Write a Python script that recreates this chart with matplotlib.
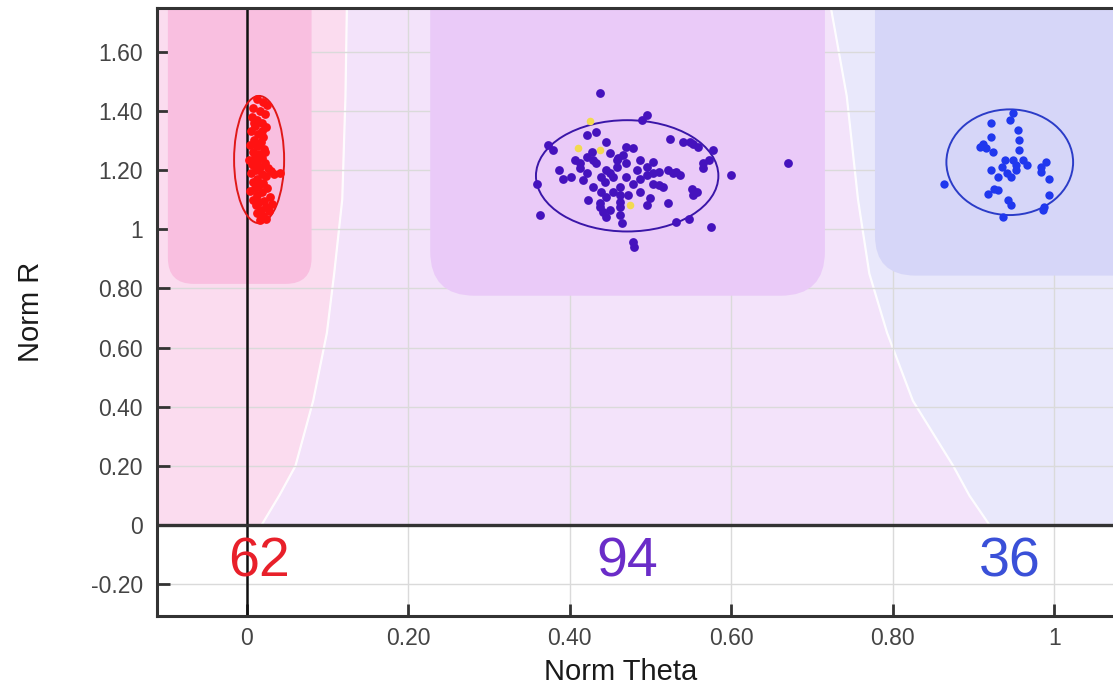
import matplotlib
matplotlib.use("Agg")
import matplotlib.pyplot as plt
from matplotlib.patches import Ellipse, FancyBboxPatch

plt.rcParams['font.family'] = ['Liberation Sans', 'DejaVu Sans']

# ---- data ----
red_x = [0.012, 0.020, 0.025, 0.008, 0.016, 0.022, 0.006, 0.013, 0.019, 0.010,
         0.024, 0.005, 0.014, 0.020, 0.009, 0.017, 0.004, 0.012, 0.021, 0.007,
         0.015, 0.010, 0.019, 0.003, 0.013, 0.022, 0.008, 0.016, 0.026, 0.011,
         0.030, 0.041, 0.005, 0.018, 0.023, 0.034, 0.012, 0.007, 0.020, 0.015,
         0.010, 0.025, 0.004, 0.018, 0.013, 0.028, 0.008, 0.021, 0.015, 0.031,
         0.011, 0.024, 0.017, 0.027, 0.013, 0.020, 0.024, 0.016, 0.009, 0.018,
         0.006, 0.022]
red_y = [1.44, 1.43, 1.42, 1.41, 1.40, 1.39, 1.38, 1.37, 1.36, 1.35,
         1.345, 1.33, 1.32, 1.31, 1.30, 1.295, 1.285, 1.28, 1.27, 1.26,
         1.255, 1.245, 1.24, 1.235, 1.23, 1.225, 1.215, 1.21, 1.205, 1.20,
         1.195, 1.19, 1.19, 1.185, 1.18, 1.185, 1.17, 1.16, 1.155, 1.15,
         1.14, 1.14, 1.13, 1.125, 1.115, 1.11, 1.10, 1.095, 1.09, 1.085,
         1.08, 1.075, 1.065, 1.06, 1.055, 1.045, 1.035, 1.03, 1.36, 1.33,
         1.22, 1.26]

purple_x = [0.437, 0.495, 0.489, 0.373, 0.379, 0.421, 0.433, 0.445, 0.427, 0.524,
            0.540, 0.553, 0.559, 0.577, 0.478, 0.406, 0.460, 0.573, 0.386, 0.392,
            0.412, 0.421, 0.433, 0.445, 0.458, 0.470, 0.483, 0.495, 0.511, 0.522,
            0.532, 0.565, 0.600, 0.670, 0.359, 0.416, 0.429, 0.443, 0.454, 0.462,
            0.478, 0.503, 0.516, 0.551, 0.553, 0.439, 0.423, 0.437, 0.462, 0.472,
            0.499, 0.495, 0.522, 0.441, 0.445, 0.462, 0.464, 0.532, 0.547, 0.363,
            0.575, 0.478, 0.480, 0.450, 0.458, 0.466, 0.487, 0.450, 0.439, 0.470,
            0.487, 0.503, 0.429, 0.421, 0.402, 0.454, 0.445, 0.487, 0.528, 0.549,
            0.462, 0.437, 0.565, 0.511, 0.557, 0.470, 0.412, 0.503, 0.462, 0.450,
            0.536, 0.495]
purple_y = [1.460, 1.385, 1.368, 1.284, 1.267, 1.318, 1.329, 1.295, 1.261, 1.303,
            1.295, 1.289, 1.278, 1.267, 1.273, 1.233, 1.239, 1.233, 1.199, 1.171,
            1.205, 1.188, 1.222, 1.199, 1.211, 1.222, 1.199, 1.182, 1.194, 1.199,
            1.194, 1.205, 1.182, 1.222, 1.154, 1.166, 1.143, 1.160, 1.177, 1.143,
            1.154, 1.154, 1.143, 1.137, 1.115, 1.126, 1.098, 1.087, 1.092, 1.115,
            1.104, 1.081, 1.087, 1.059, 1.042, 1.047, 1.019, 1.025, 1.033, 1.047,
            1.008, 0.957, 0.940, 1.256, 1.233, 1.250, 1.233, 1.188, 1.177, 1.177,
            1.171, 1.188, 1.233, 1.245, 1.177, 1.126, 1.109, 1.126, 1.188, 1.295,
            1.075, 1.075, 1.222, 1.149, 1.126, 1.278, 1.222, 1.228, 1.115, 1.064,
            1.182, 1.211]

yellow_x = [0.425, 0.410, 0.437, 0.474]
yellow_y = [1.366, 1.273, 1.267, 1.081]

blue_x = [0.949, 0.945, 0.922, 0.955, 0.957, 0.922, 0.912, 0.916, 0.924, 0.939,
          0.949, 0.961, 0.966, 0.935, 0.922, 0.941, 0.947, 0.990, 0.984, 0.994,
          0.864, 0.926, 0.918, 0.994, 0.943, 0.947, 0.988, 0.937, 0.953, 0.931,
          0.984, 0.957, 0.908, 0.931, 0.986, 0.953]
blue_y = [1.391, 1.368, 1.357, 1.334, 1.301, 1.312, 1.289, 1.273, 1.261, 1.233,
          1.233, 1.233, 1.216, 1.211, 1.199, 1.188, 1.177, 1.228, 1.194, 1.171,
          1.154, 1.137, 1.120, 1.115, 1.098, 1.081, 1.075, 1.042, 1.216, 1.177,
          1.211, 1.267, 1.278, 1.132, 1.064, 1.200]

# cluster ellipses: centre x, centre y, width, height
clusters = ['red', 'purple', 'blue']
counts = [62, 94, 36]
ell_cx = [0.015, 0.471, 0.945]
ell_cy = [1.235, 1.180, 1.226]
ell_w = [0.062, 0.226, 0.157]
ell_h = [0.430, 0.376, 0.357]

# class regions (boundary curves, y -> x)
bound_y = [0.0, 0.1, 0.2, 0.42, 0.65, 0.85, 1.1, 1.45, 1.80]
left_bound_x = [0.018, 0.040, 0.060, 0.082, 0.099, 0.108, 0.118, 0.122, 0.124]
right_bound_x = [0.920, 0.895, 0.875, 0.825, 0.793, 0.771, 0.757, 0.743, 0.720]

# core boxes: x0, x1, bottom y
box_x0 = [-0.098, 0.227, 0.778]
box_x1 = [0.080, 0.716, 1.300]
box_y0 = [0.815, 0.775, 0.843]

xticks = [0, 0.2, 0.4, 0.6, 0.8, 1.0]
xtick_labels = ['0', '0.20', '0.40', '0.60', '0.80', '1']
yticks = [-0.2, 0, 0.2, 0.4, 0.6, 0.8, 1.0, 1.2, 1.4, 1.6]
ytick_labels = ['-0.20', '0', '0.20', '0.40', '0.60', '0.80', '1', '1.20', '1.40', '1.60']

xmin, xmax = -0.1115, 1.12
ymin, ymax = -0.307, 1.747

# ---- styling ----
dot_colors = ['#ff1212', '#4512bd', '#2038ee']
ell_colors = ['#e01818', '#3a16a8', '#2b3cc8']
count_colors = ['#e8202a', '#6a2cc8', '#3a50d8']
region_colors = ['#fbdcef', '#f3e3fa', '#e9e8fb']
box_colors = ['#f9bfe0', '#eacaf8', '#d6d6f8']
box_round = [0.032, 0.055, 0.050]

fig = plt.figure(figsize=(11.13, 6.94), dpi=100)
W, H = 1113, 694
ax_left, ax_right = 157, 1151
ax_top, ax_bot = 8, 616
ax = fig.add_axes([ax_left / W, (H - ax_bot) / H, (ax_right - ax_left) / W, (ax_bot - ax_top) / H])
ax.set_xlim(xmin, xmax)
ax.set_ylim(ymin, ymax)
ax.set_facecolor('white')

# background regions above y=0
ax.fill_betweenx(bound_y, xmin, left_bound_x, color=region_colors[0], lw=0, zorder=0.1)
ax.fill_betweenx(bound_y, left_bound_x, right_bound_x, color=region_colors[1], lw=0, zorder=0.1)
ax.fill_betweenx(bound_y, right_bound_x, xmax, color=region_colors[2], lw=0, zorder=0.1)
ax.plot(left_bound_x, bound_y, color='white', lw=1.6, alpha=0.9, zorder=0.2)
ax.plot(right_bound_x, bound_y, color='white', lw=1.6, alpha=0.9, zorder=0.2)

# rounded core boxes (aspect so corners look round on screen)
aspect = ((ymax - ymin) / (ax_bot - ax_top)) / ((xmax - xmin) / (ax_right - ax_left))
for x0, x1, y0, c, r in zip(box_x0, box_x1, box_y0, box_colors, box_round):
    p = FancyBboxPatch((x0, y0), x1 - x0, 2.2 - y0,
                       boxstyle='round,pad=0,rounding_size=%g' % r,
                       mutation_aspect=aspect, fc=c, ec='none', zorder=2)
    ax.add_patch(p)

ax.grid(True, color='#dadada', lw=1.0)
ax.set_axisbelow(True)

# axes lines
ax.axhline(0, color='#333333', lw=2.4, zorder=2.6)
ax.axvline(0, color='#111111', lw=1.8, zorder=2.5)

# ellipses
for cx, cy, w, h, c in zip(ell_cx, ell_cy, ell_w, ell_h, ell_colors):
    ax.add_patch(Ellipse((cx, cy), w, h, fill=False, ec=c, lw=1.4, zorder=3))

ax.scatter(red_x, red_y, s=40, color=dot_colors[0], lw=0, zorder=4)
ax.scatter(purple_x, purple_y, s=40, color=dot_colors[1], lw=0, zorder=4)
ax.scatter(yellow_x, yellow_y, s=30, color='#f2da50', lw=0, zorder=3.9)
ax.scatter(blue_x, blue_y, s=36, color=dot_colors[2], lw=0, zorder=4)

for cx, n, c in zip(ell_cx, counts, count_colors):
    ax.text(cx, -0.125, str(n), color=c, fontsize=40, ha='center', va='center', zorder=5)

ax.set_xticks(xticks)
ax.set_xticklabels(xtick_labels)
ax.set_yticks(yticks)
ax.set_yticklabels(ytick_labels)
ax.tick_params(direction='in', length=9, width=2, color='#333333',
               labelsize=16.5, labelcolor='#444444')
ax.tick_params(axis='y', pad=10)
ax.tick_params(axis='x', pad=8)

for s in ['left', 'top', 'bottom']:
    ax.spines[s].set_color('#333333')
    ax.spines[s].set_linewidth(2.2)
    ax.spines[s].set_zorder(6)
ax.spines['right'].set_visible(False)

ax.set_xlabel('Norm Theta', fontsize=21, color='#1a1a1a')
ax.set_ylabel('Norm R', fontsize=21, color='#1a1a1a')
ax.xaxis.set_label_coords((621 - ax_left) / (ax_right - ax_left), -(672 - ax_bot) / (ax_bot - ax_top))
ax.xaxis.label.set_va('center')
ax.yaxis.set_label_coords((31 - ax_left) / (ax_right - ax_left), 0.5)
ax.yaxis.label.set_va('center')

fig.savefig('out.png', dpi=100)
